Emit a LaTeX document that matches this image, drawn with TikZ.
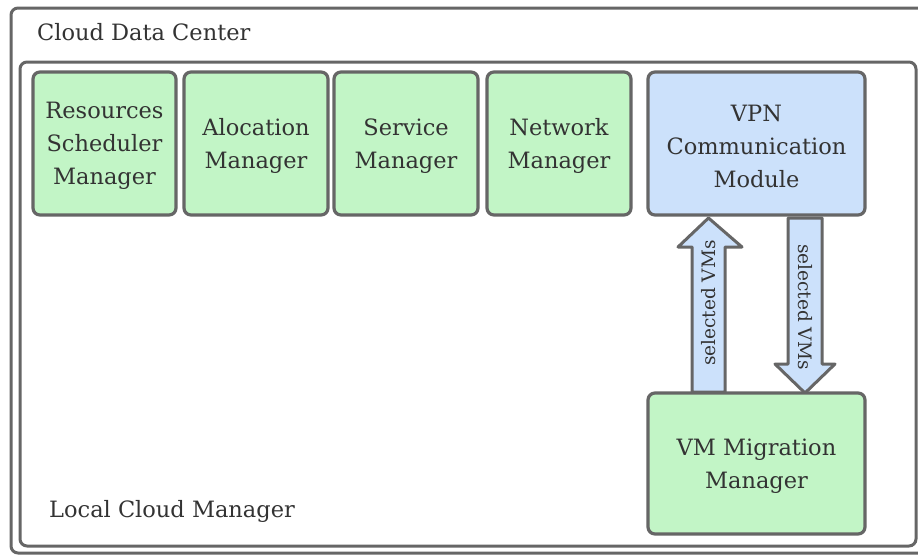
\documentclass[tikz,border=0pt]{standalone}
\usepackage{fontspec}
\setmainfont{DejaVu Serif}
\usetikzlibrary{shapes.arrows}
\definecolor{edgegray}{HTML}{666666}
\definecolor{txtgray}{HTML}{333333}
\definecolor{greenfill}{HTML}{C2F5C6}
\definecolor{bluefill}{HTML}{CCE1FB}
\tikzset{
  frame/.style={draw=edgegray, line width=3pt, rounded corners=7pt, fill=white},
  gbox/.style={draw=edgegray, line width=3.2pt, rounded corners=7pt, fill=greenfill},
  bbox/.style={draw=edgegray, line width=3.2pt, rounded corners=7pt, fill=bluefill},
  lbl/.style={text=txtgray, font=\fontsize{22.5}{33}\selectfont, align=center, inner sep=0pt},
  albl/.style={text=txtgray, font=\fontsize{18.5}{20}\selectfont, inner sep=0pt},
  fatarrow/.style={draw=edgegray, line width=3pt, fill=bluefill, line join=round},
}
\begin{document}
\begin{tikzpicture}[x=1pt,y=-1pt]
\useasboundingbox (0,0) rectangle (918,557);
\begin{scope}
\clip (0,0) rectangle (918,557);
% outer frame
\draw[frame] (11,8) rectangle (930,553);
\node[lbl, anchor=base west] (cdc) at (37,40) {Cloud Data Center};
% inner frame
\draw[frame] (20,62) rectangle (916,546);
\node[lbl, anchor=base west] (lcm) at (49,517) {Local Cloud Manager};
\end{scope}
% top boxes
\draw[gbox] (33,72) rectangle (176,215);
\node[lbl] (rsm) at (104.5,146) {Resources\\Scheduler\\Manager};
\draw[gbox] (184,72) rectangle (328,215);
\node[lbl] (am) at (256,146) {Alocation\\Manager};
\draw[gbox] (334,72) rectangle (478,215);
\node[lbl] (sm) at (406,146) {Service\\Manager};
\draw[gbox] (487,72) rectangle (631,215);
\node[lbl] (nm) at (559,146) {Network\\Manager};
\draw[bbox] (648,72) rectangle (865,215);
\node[lbl] (vpn) at (756.5,146) {VPN\\Communication\\Module};
% arrows
\draw[fatarrow] (692,392) -- (692,247) -- (678,247) -- (708.5,218) -- (742,247) -- (725,247) -- (725,392) -- cycle;
\node[albl, rotate=90] (a1) at (709,303) {selected VMs};
\draw[fatarrow] (788,218) -- (822,218) -- (822,364) -- (835,364) -- (805,393) -- (775,364) -- (788,364) -- cycle;
\node[albl, rotate=-90] (a2) at (805,307) {selected VMs};
% bottom box
\draw[gbox] (648,393) rectangle (865,534);
\node[lbl] (vmm) at (756.5,466) {VM Migration\\Manager};
\end{tikzpicture}
\end{document}
